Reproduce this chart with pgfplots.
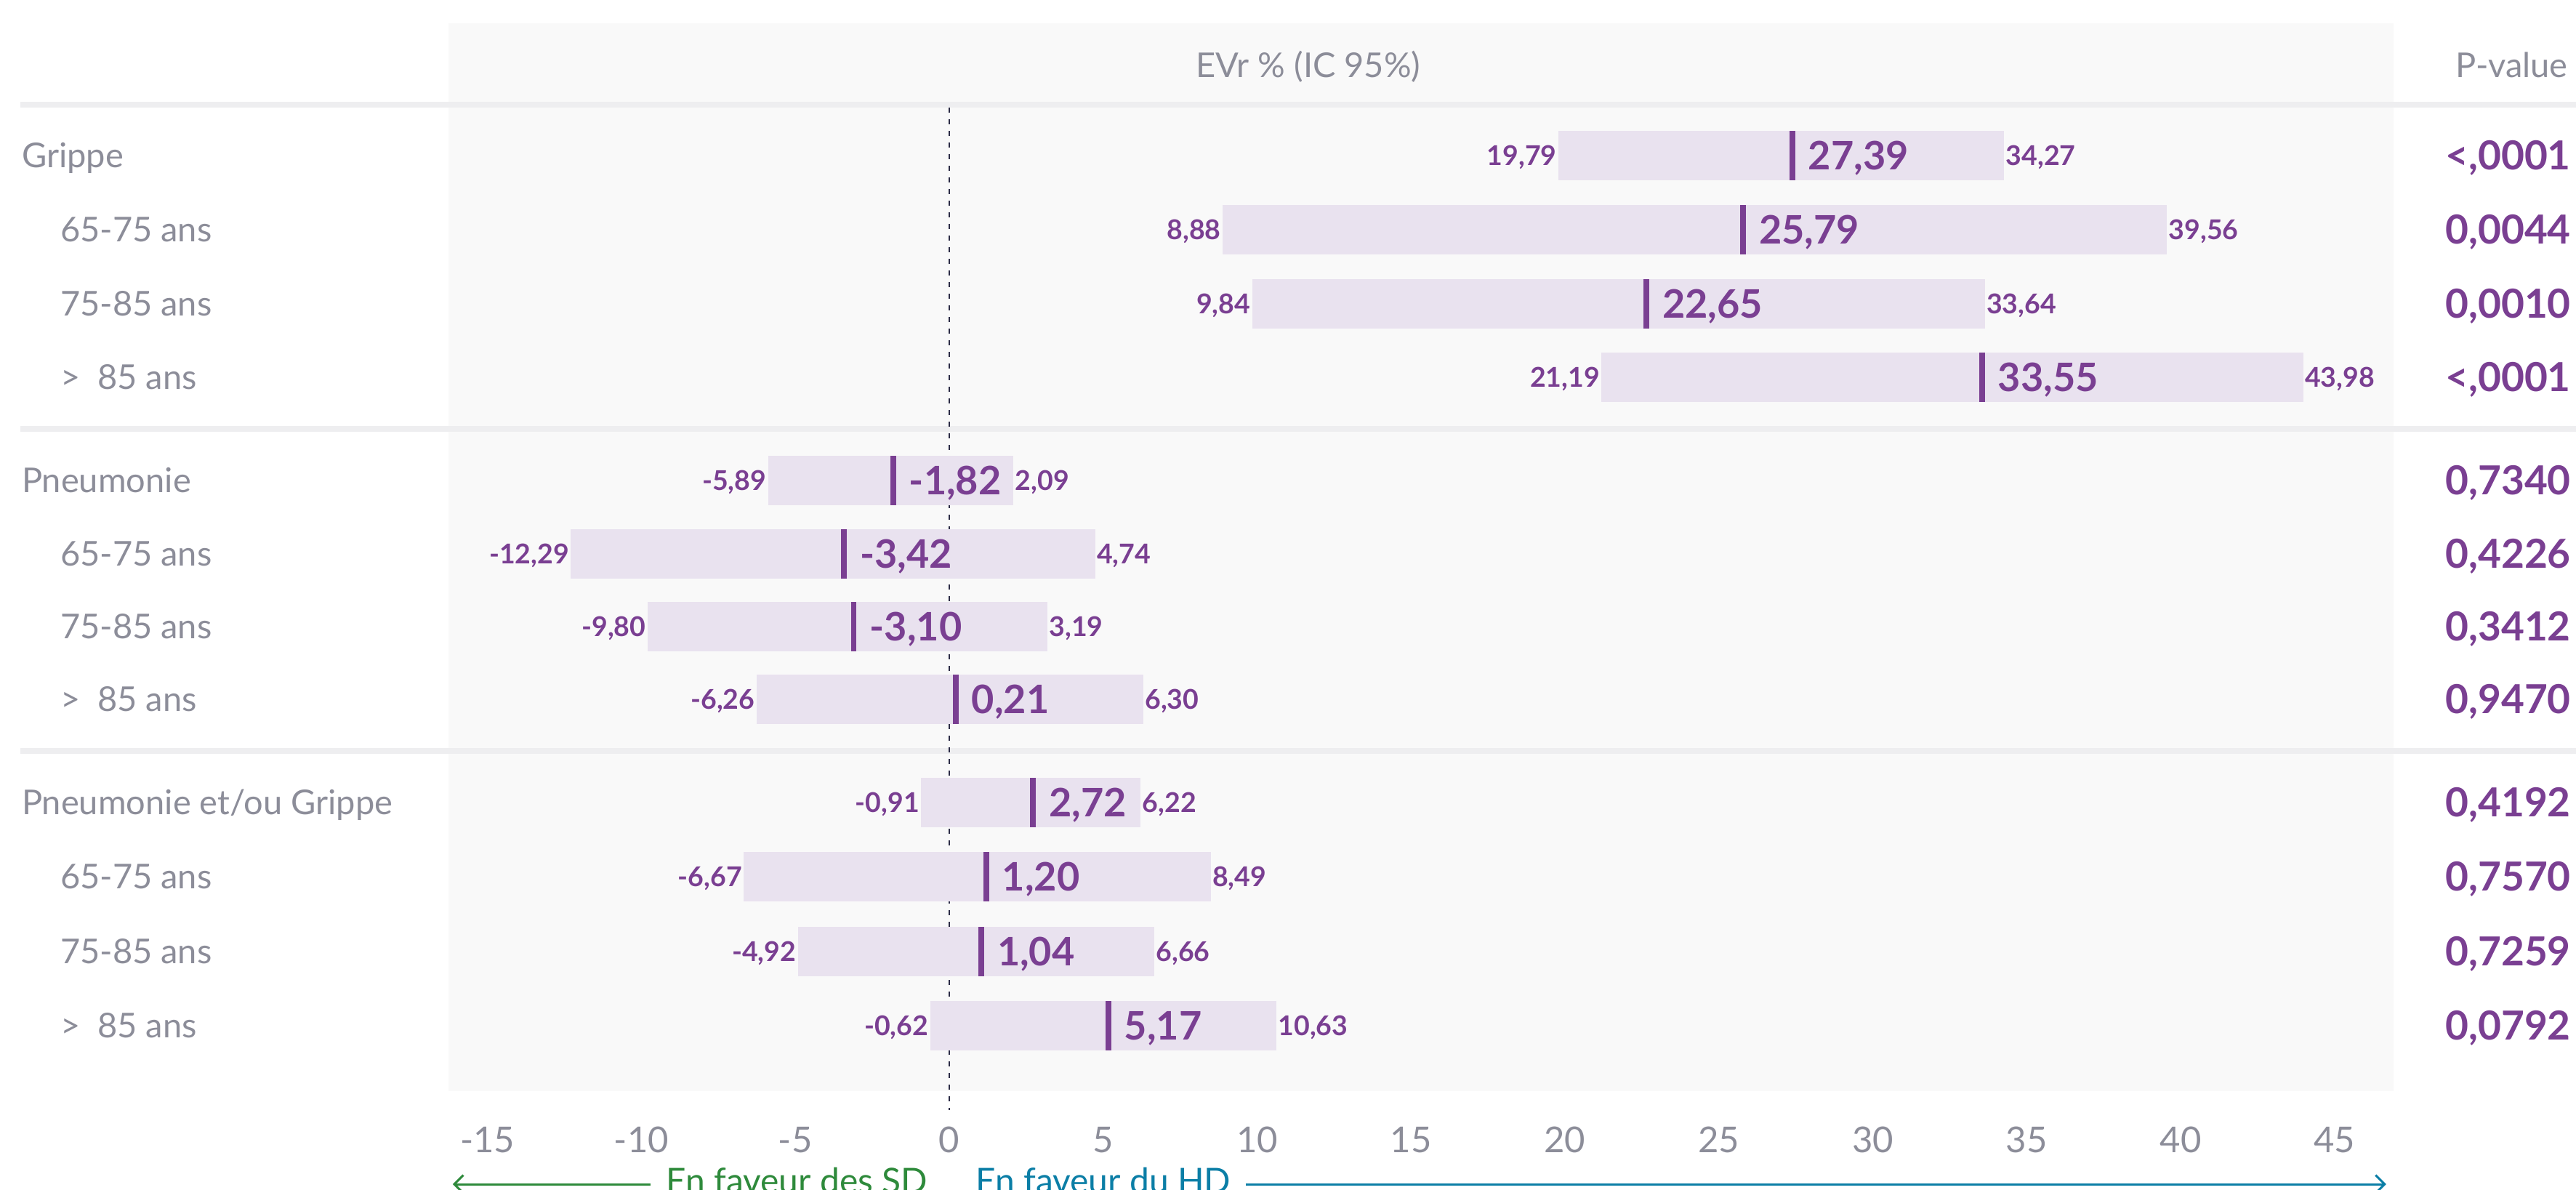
\documentclass[border=0pt]{standalone}
\usepackage{pgfplots}
\pgfplotsset{compat=1.18}
\usepackage{pgfplotstable}
\usepackage{fontspec}
\setmainfont{Lato}
\usetikzlibrary{arrows.meta}

\definecolor{bggray}{HTML}{F9F9F9}
\definecolor{sepgray}{HTML}{EEEEF0}
\definecolor{barcol}{HTML}{E9E2EF}
\definecolor{purp}{HTML}{7A3F92}
\definecolor{txtgray}{HTML}{8C8D99}
\definecolor{favgreen}{HTML}{2E8A3B}
\definecolor{favblue}{HTML}{0B7EA6}
\definecolor{dashcol}{HTML}{2B2B45}

\tikzset{lab/.style={font=\fontsize{9.4}{11}\selectfont, text=txtgray, inner sep=0pt, anchor=base west, yshift=-3.3pt}}

% y = vertical position of the row (picture rows, top to bottom)
\pgfplotstableread{
y    lo     est    hi     loS     estS    hiS    p
214  19.79  27.39  34.27  19,79   27,39   34,27  <,0001
316  8.88   25.79  39.56  8,88    25,79   39,56  0,0044
418  9.84   22.65  33.64  9,84    22,65   33,64  0,0010
519  21.19  33.55  43.98  21,19   33,55   43,98  <,0001
661  -5.89  -1.82  2.09   -5,89   -1,82   2,09   0,7340
762  -12.29 -3.42  4.74   -12,29  -3,42   4,74   0,4226
862  -9.80  -3.10  3.19   -9,80   -3,10   3,19   0,3412
962  -6.26  0.21   6.30   -6,26   0,21    6,30   0,9470
1104 -0.91  2.72   6.22   -0,91   2,72    6,22   0,4192
1206 -6.67  1.20   8.49   -6,67   1,20    8,49   0,7570
1309 -4.92  1.04   6.66   -4,92   1,04    6,66   0,7259
1411 -0.62  5.17   10.63  -0,62   5,17    10,63  0,0792
}\data

\begin{document}
\begin{tikzpicture}
\path[use as bounding box] (0pt,0pt) rectangle (708.8pt,-327.2pt);
\begin{axis}[
  at={(123.3pt,-300.2pt)}, anchor=south west,
  scale only axis, width=535.3pt, height=293.8pt,
  xmin=-16.28, xmax=46.92, ymin=32, ymax=1501, y dir=reverse,
  enlargelimits=false, clip=false,
  axis background/.style={fill=bggray},
  axis line style={draw=none}, tick style={draw=none},
  ytick=\empty,
  xtick={-15,-10,-5,0,5,10,15,20,25,30,35,40,45},
  xticklabels={-15,-10,-5,0,5,10,15,20,25,30,35,40,45},
  xticklabel style={font=\fontsize{9.8}{11}\selectfont, text=txtgray, anchor=base, yshift=-16.8pt},
]
% separators
\addplot[sepgray, line width=1.6pt, forget plot] coordinates {(-30.18,144) (52.85,144)};
\addplot[sepgray, line width=1.6pt, forget plot] coordinates {(-30.18,590) (52.85,590)};
\addplot[sepgray, line width=1.6pt, forget plot] coordinates {(-30.18,1033) (52.85,1033)};
% zero line
\addplot[dashcol, line width=0.4pt, dash pattern=on 1.4pt off 1.8pt, forget plot] coordinates {(0,148) (0,1527)};
% CI bars
\addplot[draw=none, mark=none, forget plot,
  error bars/.cd, x dir=both, x explicit, error mark=none,
  error bar style={draw=barcol, line width=13.6pt, line cap=butt}]
  table[x=est, y=y, x error plus expr=\thisrow{hi}-\thisrow{est}, x error minus expr=\thisrow{est}-\thisrow{lo}] {\data};
% estimates
\addplot[only marks, mark=|, mark size=6.8pt, mark options={draw=purp, line width=1.5pt}, forget plot]
  table[x=est, y=y] {\data};
% lower labels
\addplot[draw=none, mark=none, forget plot, point meta=explicit symbolic,
  nodes near coords={\pgfplotspointmeta},
  every node near coord/.append style={anchor=base east, inner sep=0pt, xshift=-0.3pt, yshift=-2.7pt,
     font=\fontsize{7.5}{9}\selectfont\bfseries, text=purp}]
  table[x=lo, y=y, meta=loS] {\data};
% upper labels
\addplot[draw=none, mark=none, forget plot, point meta=explicit symbolic,
  nodes near coords={\pgfplotspointmeta},
  every node near coord/.append style={anchor=base west, inner sep=0pt, xshift=0.3pt, yshift=-2.7pt,
     font=\fontsize{7.5}{9}\selectfont\bfseries, text=purp}]
  table[x=hi, y=y, meta=hiS] {\data};
% estimate labels
\addplot[draw=none, mark=none, forget plot, point meta=explicit symbolic,
  nodes near coords={\pgfplotspointmeta},
  every node near coord/.append style={anchor=base west, inner sep=0pt, xshift=4.2pt, yshift=-3.8pt,
     font=\fontsize{10.8}{12}\selectfont\bfseries, text=purp}]
  table[x=est, y=y, meta=estS] {\data};
% p-values
\addplot[draw=none, mark=none, forget plot, point meta=explicit symbolic,
  nodes near coords={\pgfplotspointmeta},
  every node near coord/.append style={anchor=base east, inner sep=0pt, yshift=-3.9pt,
     font=\fontsize{11}{13}\selectfont\bfseries, text=purp}]
  table[x expr=52.7, y=y, meta=p] {\data};

% header
\node[font=\fontsize{9.4}{11}\selectfont, text=txtgray, anchor=base, inner sep=0pt] at (axis cs:11.66,106) {EVr \% (IC 95\%)};
\node[font=\fontsize{9.4}{11}\selectfont, text=txtgray, anchor=base east, inner sep=0pt] at (axis cs:52.6,106) {P-value};

% row labels
\node[lab] at (axis cs:-30.15,214) {Grippe};
\node[lab] at (axis cs:-28.90,316) {65-75 ans};
\node[lab] at (axis cs:-28.90,418) {75-85 ans};
\node[lab] at (axis cs:-28.90,519) {>~~85 ans};
\node[lab] at (axis cs:-30.15,661) {Pneumonie};
\node[lab] at (axis cs:-28.90,762) {65-75 ans};
\node[lab] at (axis cs:-28.90,862) {75-85 ans};
\node[lab] at (axis cs:-28.90,962) {>~~85 ans};
\node[lab] at (axis cs:-30.15,1104) {Pneumonie et/ou Grippe};
\node[lab] at (axis cs:-28.90,1206) {65-75 ans};
\node[lab] at (axis cs:-28.90,1309) {75-85 ans};
\node[lab] at (axis cs:-28.90,1411) {>~~85 ans};

% direction arrows
\draw[favgreen, line width=0.6pt, {Straight Barb[length=2.5pt,width=5pt]}-] (axis cs:-16.13,1629) -- (axis cs:-9.70,1629);
\node[font=\fontsize{9.6}{11}\selectfont, text=favgreen, anchor=base east, inner sep=0pt] at (axis cs:-0.68,1641) {En faveur des SD};
\node[font=\fontsize{9.6}{11}\selectfont, text=favblue, anchor=base west, inner sep=0pt] at (axis cs:0.83,1641) {En faveur du HD};
\draw[favblue, line width=0.6pt, -{Straight Barb[length=2.5pt,width=5pt]}] (axis cs:9.63,1629) -- (axis cs:46.68,1629);
\end{axis}
\end{tikzpicture}
\end{document}
